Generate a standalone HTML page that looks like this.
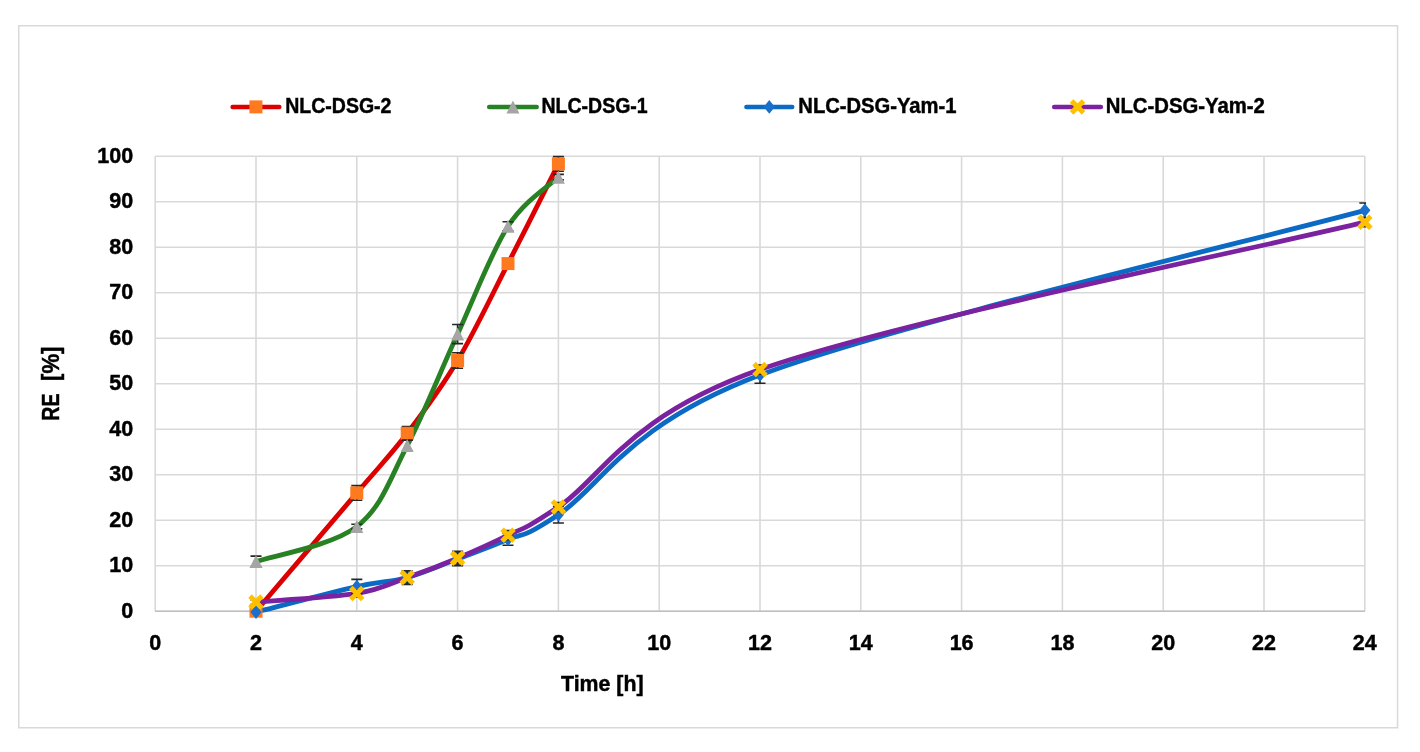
<!DOCTYPE html><html><head><meta charset="utf-8"><style>html,body{margin:0;padding:0;background:#fff;}svg{display:block;filter:blur(0.45px);}text{font-family:"Liberation Sans", sans-serif;font-weight:bold;fill:#000;stroke:#000;stroke-width:0.45px;}</style></head><body>
<svg width="1420" height="752" viewBox="0 0 1420 752">
<rect x="0" y="0" width="1420" height="752" fill="#fff"/>
<rect x="18.75" y="25.75" width="1378.8" height="702" fill="none" stroke="#d9d9d9" stroke-width="1.5"/>
<path d="M155.20,611.20H1364.80 M155.20,565.70H1364.80 M155.20,520.20H1364.80 M155.20,474.70H1364.80 M155.20,429.20H1364.80 M155.20,383.70H1364.80 M155.20,338.20H1364.80 M155.20,292.70H1364.80 M155.20,247.20H1364.80 M155.20,201.70H1364.80 M155.20,156.20H1364.80 M155.20,611.20V156.20 M256.00,611.20V156.20 M356.80,611.20V156.20 M457.60,611.20V156.20 M558.40,611.20V156.20 M659.20,611.20V156.20 M760.00,611.20V156.20 M860.80,611.20V156.20 M961.60,611.20V156.20 M1062.40,611.20V156.20 M1163.20,611.20V156.20 M1264.00,611.20V156.20 M1364.80,611.20V156.20" stroke="#d9d9d9" stroke-width="1.6" fill="none"/>
<path d="M155.20,611.20H1364.80" stroke="#bfbfbf" stroke-width="1.6" fill="none"/>
<text x="133.2" y="617.50" font-size="21.5" text-anchor="end">0</text>
<text x="133.2" y="572.00" font-size="21.5" text-anchor="end">10</text>
<text x="133.2" y="526.50" font-size="21.5" text-anchor="end">20</text>
<text x="133.2" y="481.00" font-size="21.5" text-anchor="end">30</text>
<text x="133.2" y="435.50" font-size="21.5" text-anchor="end">40</text>
<text x="133.2" y="390.00" font-size="21.5" text-anchor="end">50</text>
<text x="133.2" y="344.50" font-size="21.5" text-anchor="end">60</text>
<text x="133.2" y="299.00" font-size="21.5" text-anchor="end">70</text>
<text x="133.2" y="253.50" font-size="21.5" text-anchor="end">80</text>
<text x="133.2" y="208.00" font-size="21.5" text-anchor="end">90</text>
<text x="133.2" y="162.50" font-size="21.5" text-anchor="end">100</text>
<text x="155.20" y="649.6" font-size="21.5" text-anchor="middle">0</text>
<text x="256.00" y="649.6" font-size="21.5" text-anchor="middle">2</text>
<text x="356.80" y="649.6" font-size="21.5" text-anchor="middle">4</text>
<text x="457.60" y="649.6" font-size="21.5" text-anchor="middle">6</text>
<text x="558.40" y="649.6" font-size="21.5" text-anchor="middle">8</text>
<text x="659.20" y="649.6" font-size="21.5" text-anchor="middle">10</text>
<text x="760.00" y="649.6" font-size="21.5" text-anchor="middle">12</text>
<text x="860.80" y="649.6" font-size="21.5" text-anchor="middle">14</text>
<text x="961.60" y="649.6" font-size="21.5" text-anchor="middle">16</text>
<text x="1062.40" y="649.6" font-size="21.5" text-anchor="middle">18</text>
<text x="1163.20" y="649.6" font-size="21.5" text-anchor="middle">20</text>
<text x="1264.00" y="649.6" font-size="21.5" text-anchor="middle">22</text>
<text x="1364.80" y="649.6" font-size="21.5" text-anchor="middle">24</text>
<text x="561" y="691.3" font-size="21.5" textLength="82.5" lengthAdjust="spacingAndGlyphs">Time [h]</text>
<text transform="translate(59.1,419.6) rotate(-90)" x="-1.1" y="0" font-size="23.5" textLength="27.2" lengthAdjust="spacingAndGlyphs">RE</text>
<text transform="translate(59.1,379.8) rotate(-90)" x="-1.2" y="0" font-size="23.5" textLength="34.5" lengthAdjust="spacingAndGlyphs">[%]</text>
<path d="M232.60,106.90H279.30" stroke="#dc0000" stroke-width="4.5" stroke-linecap="round" fill="none"/>
<rect x="249.45" y="100.40" width="13.00" height="13.00" fill="#ff7a1f"/>
<text x="285.20" y="113.3" font-size="21.5" textLength="106.30" lengthAdjust="spacingAndGlyphs">NLC-DSG-2</text>
<path d="M489.20,106.90H536.70" stroke="#288224" stroke-width="4.5" stroke-linecap="round" fill="none"/>
<polygon points="512.95,100.40 519.45,113.40 506.45,113.40" fill="#a5a5a5"/>
<text x="541.50" y="113.3" font-size="21.5" textLength="106.20" lengthAdjust="spacingAndGlyphs">NLC-DSG-1</text>
<path d="M746.40,106.90H792.20" stroke="#0a6ac4" stroke-width="4.5" stroke-linecap="round" fill="none"/>
<polygon points="769.30,100.10 774.90,106.90 769.30,113.70 763.70,106.90" fill="#1a6fcc"/>
<text x="798.30" y="113.3" font-size="21.5" textLength="158.20" lengthAdjust="spacingAndGlyphs">NLC-DSG-Yam-1</text>
<path d="M1054.20,106.90H1100.90" stroke="#7a22a0" stroke-width="4.5" stroke-linecap="round" fill="none"/>
<path d="M1073.35,102.70 L1081.75,111.10 M1073.35,111.10 L1081.75,102.70" stroke="#ffc000" stroke-width="5" stroke-linecap="square" fill="none"/>
<text x="1105.80" y="113.3" font-size="21.5" textLength="159.00" lengthAdjust="spacingAndGlyphs">NLC-DSG-Yam-2</text>
<path d="M256.00,611.20 C272.80,591.48 331.60,522.55 356.80,492.90 C382.00,463.25 390.40,455.36 407.20,433.30 C424.00,411.23 440.80,388.78 457.60,360.50 C474.40,332.21 491.20,296.34 508.00,263.58 C524.80,230.82 550.00,180.54 558.40,163.94" stroke="#dc0000" stroke-width="4.8" stroke-linecap="round" stroke-linejoin="round" fill="none"/>
<path d="M256.00,561.61 C272.80,555.77 331.60,545.91 356.80,526.57 C382.00,507.23 390.40,477.66 407.20,445.58 C424.00,413.50 440.80,370.66 457.60,334.11 C474.40,297.55 491.20,252.43 508.00,226.27 C524.80,200.11 550.00,185.32 558.40,177.13" stroke="#288224" stroke-width="4.8" stroke-linecap="round" stroke-linejoin="round" fill="none"/>
<path d="M256.00,612.11 C272.80,607.86 331.60,592.39 356.80,586.63 C382.00,580.87 390.40,582.16 407.20,577.53 C424.00,572.90 440.80,565.25 457.60,558.88 C474.40,552.50 491.20,546.67 508.00,539.31 C524.80,531.95 516.40,542.12 558.40,514.74 C600.40,487.36 625.60,425.79 760.00,375.06 C894.40,324.32 1264.00,237.80 1364.80,210.35" stroke="#0a6ac4" stroke-width="4.8" stroke-linecap="round" stroke-linejoin="round" fill="none"/>
<path d="M256.00,602.10 C272.80,600.66 331.60,597.55 356.80,593.46 C382.00,589.36 390.40,583.41 407.20,577.53 C424.00,571.65 440.80,565.25 457.60,558.19 C474.40,551.14 491.20,543.75 508.00,535.22 C524.80,526.68 516.40,534.61 558.40,507.01 C600.40,479.40 625.60,417.07 760.00,369.60 C894.40,322.12 1264.00,246.75 1364.80,222.18" stroke="#7a22a0" stroke-width="4.8" stroke-linecap="round" stroke-linejoin="round" fill="none"/>
<path d="M356.80,485.62V500.18 M351.30,485.62H362.30 M351.30,500.18H362.30" stroke="#262626" stroke-width="1.6" fill="none"/>
<path d="M407.20,426.47V440.12 M401.70,426.47H412.70 M401.70,440.12H412.70" stroke="#262626" stroke-width="1.6" fill="none"/>
<path d="M457.60,352.76V368.23 M452.10,352.76H463.10 M452.10,368.23H463.10" stroke="#262626" stroke-width="1.6" fill="none"/>
<path d="M508.00,261.31V265.86 M502.50,261.31H513.50 M502.50,265.86H513.50" stroke="#262626" stroke-width="1.6" fill="none"/>
<path d="M558.40,156.66V171.22 M552.90,156.66H563.90 M552.90,171.22H563.90" stroke="#262626" stroke-width="1.6" fill="none"/>
<rect x="249.50" y="604.70" width="13.00" height="13.00" fill="#ff7a1f"/>
<rect x="350.30" y="486.40" width="13.00" height="13.00" fill="#ff7a1f"/>
<rect x="400.70" y="426.80" width="13.00" height="13.00" fill="#ff7a1f"/>
<rect x="451.10" y="354.00" width="13.00" height="13.00" fill="#ff7a1f"/>
<rect x="501.50" y="257.08" width="13.00" height="13.00" fill="#ff7a1f"/>
<rect x="551.90" y="157.44" width="13.00" height="13.00" fill="#ff7a1f"/>
<path d="M256.00,556.15V567.07 M250.50,556.15H261.50 M250.50,567.07H261.50" stroke="#262626" stroke-width="1.6" fill="none"/>
<path d="M356.80,524.30V528.85 M351.30,524.30H362.30 M351.30,528.85H362.30" stroke="#262626" stroke-width="1.6" fill="none"/>
<path d="M407.20,440.12V451.04 M401.70,440.12H412.70 M401.70,451.04H412.70" stroke="#262626" stroke-width="1.6" fill="none"/>
<path d="M457.60,324.55V343.66 M452.10,324.55H463.10 M452.10,343.66H463.10" stroke="#262626" stroke-width="1.6" fill="none"/>
<path d="M508.00,221.72V230.82 M502.50,221.72H513.50 M502.50,230.82H513.50" stroke="#262626" stroke-width="1.6" fill="none"/>
<path d="M558.40,174.40V179.86 M552.90,174.40H563.90 M552.90,179.86H563.90" stroke="#262626" stroke-width="1.6" fill="none"/>
<polygon points="256.00,555.11 262.50,568.11 249.50,568.11" fill="#a5a5a5"/>
<polygon points="356.80,520.07 363.30,533.07 350.30,533.07" fill="#a5a5a5"/>
<polygon points="407.20,439.08 413.70,452.08 400.70,452.08" fill="#a5a5a5"/>
<polygon points="457.60,327.61 464.10,340.61 451.10,340.61" fill="#a5a5a5"/>
<polygon points="508.00,219.77 514.50,232.77 501.50,232.77" fill="#a5a5a5"/>
<polygon points="558.40,170.63 564.90,183.63 551.90,183.63" fill="#a5a5a5"/>
<path d="M356.80,579.35V593.91 M351.30,579.35H362.30 M351.30,593.91H362.30" stroke="#262626" stroke-width="1.6" fill="none"/>
<path d="M407.20,572.07V582.99 M401.70,572.07H412.70 M401.70,582.99H412.70" stroke="#262626" stroke-width="1.6" fill="none"/>
<path d="M457.60,552.05V565.70 M452.10,552.05H463.10 M452.10,565.70H463.10" stroke="#262626" stroke-width="1.6" fill="none"/>
<path d="M508.00,533.39V545.23 M502.50,533.39H513.50 M502.50,545.23H513.50" stroke="#262626" stroke-width="1.6" fill="none"/>
<path d="M558.40,506.55V522.93 M552.90,506.55H563.90 M552.90,522.93H563.90" stroke="#262626" stroke-width="1.6" fill="none"/>
<path d="M760.00,366.87V383.25 M754.50,366.87H765.50 M754.50,383.25H765.50" stroke="#262626" stroke-width="1.6" fill="none"/>
<path d="M1364.80,203.07V217.63 M1359.30,203.07H1366.10 M1359.30,217.63H1366.10" stroke="#262626" stroke-width="1.6" fill="none"/>
<polygon points="256.00,605.31 261.60,612.11 256.00,618.91 250.40,612.11" fill="#1a6fcc"/>
<polygon points="356.80,579.83 362.40,586.63 356.80,593.43 351.20,586.63" fill="#1a6fcc"/>
<polygon points="407.20,570.73 412.80,577.53 407.20,584.33 401.60,577.53" fill="#1a6fcc"/>
<polygon points="457.60,552.08 463.20,558.88 457.60,565.67 452.00,558.88" fill="#1a6fcc"/>
<polygon points="508.00,532.51 513.60,539.31 508.00,546.11 502.40,539.31" fill="#1a6fcc"/>
<polygon points="558.40,507.94 564.00,514.74 558.40,521.54 552.80,514.74" fill="#1a6fcc"/>
<polygon points="760.00,368.26 765.60,375.06 760.00,381.86 754.40,375.06" fill="#1a6fcc"/>
<polygon points="1364.80,203.55 1370.40,210.35 1364.80,217.15 1359.20,210.35" fill="#1a6fcc"/>
<path d="M256.00,599.83V604.38 M250.50,599.83H261.50 M250.50,604.38H261.50" stroke="#262626" stroke-width="1.6" fill="none"/>
<path d="M356.80,589.82V597.10 M351.30,589.82H362.30 M351.30,597.10H362.30" stroke="#262626" stroke-width="1.6" fill="none"/>
<path d="M407.20,570.71V584.36 M401.70,570.71H412.70 M401.70,584.36H412.70" stroke="#262626" stroke-width="1.6" fill="none"/>
<path d="M457.60,551.37V565.02 M452.10,551.37H463.10 M452.10,565.02H463.10" stroke="#262626" stroke-width="1.6" fill="none"/>
<path d="M508.00,530.67V539.77 M502.50,530.67H513.50 M502.50,539.77H513.50" stroke="#262626" stroke-width="1.6" fill="none"/>
<path d="M558.40,502.46V511.56 M552.90,502.46H563.90 M552.90,511.56H563.90" stroke="#262626" stroke-width="1.6" fill="none"/>
<path d="M760.00,365.05V374.15 M754.50,365.05H765.50 M754.50,374.15H765.50" stroke="#262626" stroke-width="1.6" fill="none"/>
<path d="M1364.80,217.63V226.73 M1359.30,217.63H1366.10 M1359.30,226.73H1366.10" stroke="#262626" stroke-width="1.6" fill="none"/>
<path d="M251.80,597.90 L260.20,606.30 M251.80,606.30 L260.20,597.90" stroke="#ffc000" stroke-width="5" stroke-linecap="square" fill="none"/>
<path d="M352.60,589.25 L361.00,597.66 M352.60,597.66 L361.00,589.25" stroke="#ffc000" stroke-width="5" stroke-linecap="square" fill="none"/>
<path d="M403.00,573.33 L411.40,581.73 M403.00,581.73 L411.40,573.33" stroke="#ffc000" stroke-width="5" stroke-linecap="square" fill="none"/>
<path d="M453.40,553.99 L461.80,562.39 M453.40,562.39 L461.80,553.99" stroke="#ffc000" stroke-width="5" stroke-linecap="square" fill="none"/>
<path d="M503.80,531.01 L512.20,539.42 M503.80,539.42 L512.20,531.01" stroke="#ffc000" stroke-width="5" stroke-linecap="square" fill="none"/>
<path d="M554.20,502.81 L562.60,511.21 M554.20,511.21 L562.60,502.81" stroke="#ffc000" stroke-width="5" stroke-linecap="square" fill="none"/>
<path d="M755.80,365.40 L764.20,373.80 M755.80,373.80 L764.20,365.40" stroke="#ffc000" stroke-width="5" stroke-linecap="square" fill="none"/>
<path d="M1360.60,217.98 L1369.00,226.38 M1360.60,226.38 L1369.00,217.98" stroke="#ffc000" stroke-width="5" stroke-linecap="square" fill="none"/>
</svg></body></html>
